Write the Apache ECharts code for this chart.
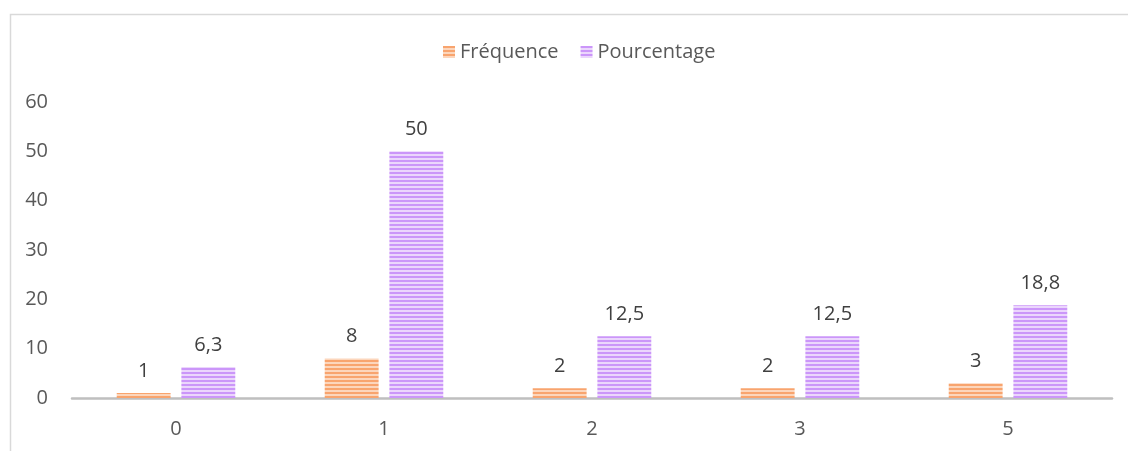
<!DOCTYPE html>
<html>
<head>
<meta charset="utf-8">
<script src="https://cdn.jsdelivr.net/npm/echarts@6/dist/echarts.min.js"></script>
<style>
html,body{margin:0;padding:0;background:#fff;}
#c{width:1128px;height:451px;}
</style>
</head>
<body>
<div id="c"></div>
<script>
const categories = ['0', '1', '2', '3', '5'];
const frequence = [1, 8, 2, 2, 3];
const pourcentage = [6.3, 50, 12.5, 12.5, 18.8];
const yTicks = [0, 10, 20, 30, 40, 50, 60];

function stripe(dark, light) {
  const cv = document.createElement('canvas');
  cv.width = 4; cv.height = 4;
  const ctx = cv.getContext('2d');
  ctx.fillStyle = light; ctx.fillRect(0, 0, 4, 4);
  ctx.fillStyle = dark; ctx.fillRect(0, 0, 4, 2);
  return { image: cv, repeat: 'repeat' };
}
const orangePat = stripe('#F8A46E', '#FCD6BC');
const purplePat = stripe('#CB96F9', '#EBD6FC');

const font = '"Open Sans", sans-serif';
const fs = 20;
const chart = echarts.init(document.getElementById('c'), null, { renderer: 'canvas' });
const labelFmt = p => String(p.value).replace('.', ',');
chart.setOption({
  animation: false,
  graphic: [{
    type: 'rect', left: 8, top: 12,
    shape: { width: 1140, height: 460 },
    style: { fill: 'none', stroke: '#D9D9D9', lineWidth: 1.5 }
  }],
  legend: {
    top: 37, left: 438, itemWidth: 12, itemHeight: 12, itemGap: 22,
    icon: 'rect',
    textStyle: { color: '#595959', fontSize: fs, fontFamily: font },
    data: [
      { name: 'Fréquence', itemStyle: { color: orangePat } },
      { name: 'Pourcentage', itemStyle: { color: purplePat } }
    ]
  },
  grid: { left: 72, right: 16, top: 102, bottom: 53, containLabel: false },
  xAxis: {
    type: 'category', data: categories,
    axisLine: { lineStyle: { color: '#BFBFBF', width: 2.5 } },
    axisTick: { show: false },
    axisLabel: { color: '#595959', fontSize: fs, fontFamily: font, margin: 21 }
  },
  yAxis: {
    type: 'value', min: yTicks[0], max: yTicks[yTicks.length - 1], interval: 10,
    splitLine: { show: false }, axisLine: { show: false }, axisTick: { show: false },
    axisLabel: { color: '#595959', fontSize: fs, fontFamily: font, margin: 24 }
  },
  series: [
    {
      name: 'Fréquence', type: 'bar', data: frequence,
      barGap: '20%', barCategoryGap: '43%',
      itemStyle: { color: orangePat },
      label: { show: true, position: 'top', distance: 12, color: '#404040', fontSize: fs, fontFamily: font, formatter: labelFmt }
    },
    {
      name: 'Pourcentage', type: 'bar', data: pourcentage,
      barGap: '20%', barCategoryGap: '43%',
      itemStyle: { color: purplePat },
      label: { show: true, position: 'top', distance: 12, color: '#404040', fontSize: fs, fontFamily: font, formatter: labelFmt }
    }
  ]
});
</script>
</body>
</html>
